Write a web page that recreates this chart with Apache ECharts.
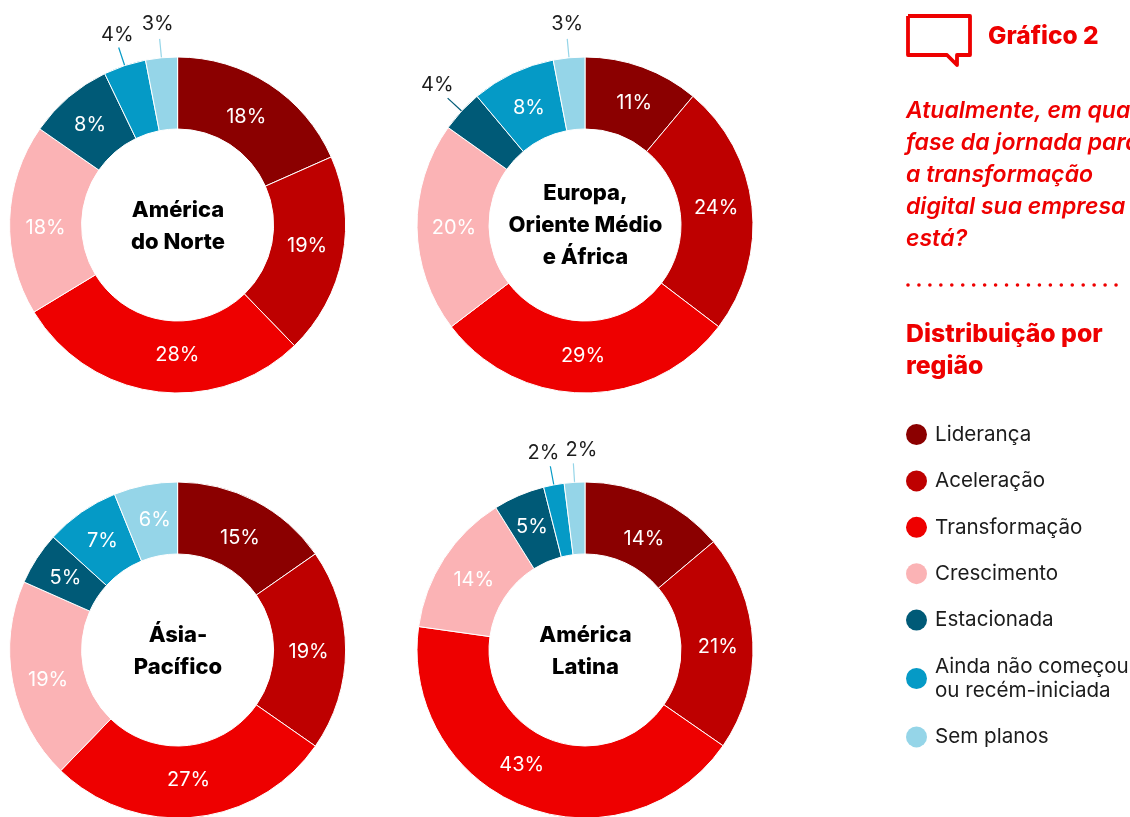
<!DOCTYPE html>
<html><head><meta charset="utf-8">
<style>html,body{margin:0;padding:0;background:#fff;overflow:hidden}#c{width:1130px;height:817px}</style>
<script src="https://cdn.jsdelivr.net/npm/echarts@6/dist/echarts.min.js"></script>
</head><body><div id="c"></div>
<script>
const categories = ['Liderança','Aceleração','Transformação','Crescimento','Estacionada','Ainda não começou ou recém-iniciada','Sem planos'];
const colors = ['#8b0000','#be0000','#ee0000','#fbb3b5','#005a77','#059ac6','#95d5e8'];
const regionNA = [18,19,28,18,8,4,3];
const regionEMEA = [11,24,29,20,4,8,3];
const regionAPAC = [15,19,27,19,5,7,6];
const regionLatAm = [14,21,43,14,5,2,2];
const outsideNA = [5,6], outsideEMEA = [4,6], outsideAPAC = [], outsideLatAm = [5,6];
const FONT = 'Inter';
const DARK = '#1c1c1c';
// hand placement of the reference's labels, relative to the slice's default spot
const nudges = [
  [[-5,5],[-3,-5],[17,-4],[3,7],[0,3],[16,-13],[15,-15]],
  [[3,5],[-3,-2],[-2,-4],[4,1],[7,-13],[2,5],[17,-15]],
  [[0,8],[-4,2],[-2,-4],[3,4],[1,2],[2,2],[3,2]],
  [[2,11],[-2,3],[-14,-11],[2,3],[0,1],[10,-13],[25,-13]]
];

function pie(values, outside, cx, cy) {
  return {
    type:'pie', center:[cx,cy], radius:[96,168], startAngle:90, clockwise:true,
    avoidLabelOverlap:false, silent:true, animation:false,
    itemStyle:{borderColor:'#fff',borderWidth:1},
    label:{position:'inside',color:'#fff',fontFamily:FONT,fontSize:20,formatter:p=>p.value+'%'},
    labelLayout:p=>({hideOverlap:false,moveOverlap:null,dx:nudges[p.seriesIndex][p.dataIndex][0],dy:nudges[p.seriesIndex][p.dataIndex][1]}),
    data: values.map((v,i)=>{
      const d = {name:categories[i], value:v, itemStyle:{color:colors[i]}};
      if (outside.includes(i)) {
        d.label = {position:'outside',color:DARK,distanceToLabelLine:1,alignTo:'none'};
        d.labelLine = {show:true,length:19,length2:0,smooth:false,lineStyle:{color:colors[i],width:1.2}};
      }
      return d;
    })
  };
}
const centerStyle = {fontFamily:FONT,fontWeight:800,fontSize:22,lineHeight:32,fill:'#000',align:'center',verticalAlign:'middle'};
const chart = echarts.init(document.getElementById('c'));
chart.setOption({
  animation:false,
  backgroundColor:'#fff',
  color:colors,
  legend:{
    orient:'vertical',left:906,top:422.5,padding:0,itemWidth:21,itemHeight:21,itemGap:22.4,icon:'circle',
    selectedMode:false,data:categories,itemStyle:{borderWidth:0},
    formatter:n=>n.replace(' ou ','\nou '),
    textStyle:{fontFamily:FONT,fontSize:20.6,color:DARK,lineHeight:24,padding:[0,0,0,3]}
  },
  series:[
    pie(regionNA,outsideNA,177.6,225),
    pie(regionEMEA,outsideEMEA,585,225),
    pie(regionAPAC,outsideAPAC,177.6,650),
    pie(regionLatAm,outsideLatAm,585,650)
  ],
  graphic:[
    {type:'text',x:178,y:226,silent:true,style:{text:'América\ndo Norte',...centerStyle}},
    {type:'text',x:585.5,y:225,silent:true,style:{text:'Europa,\nOriente Médio\ne África',...centerStyle}},
    {type:'text',x:178,y:651,silent:true,style:{text:'Ásia-\nPacífico',...centerStyle}},
    {type:'text',x:585.5,y:651,silent:true,style:{text:'América\nLatina',...centerStyle}},
    {type:'polyline',silent:true,shape:{points:[[908,16],[970,16],[970,55],[957,55],[957,65],[947,55],[908,55],[908,16]]},style:{stroke:'#ee0000',fill:'none',lineWidth:3.8,lineJoin:'round'}},
    {type:'text',x:988,y:23,silent:true,style:{text:'Gráfico 2',fontFamily:FONT,fontWeight:800,fontSize:24.5,fill:'#ee0000',lineHeight:28}},
    {type:'text',x:906,y:95,silent:true,style:{text:'Atualmente, em qual\nfase da jornada para\na transformação\ndigital sua empresa\nestá?',fontFamily:FONT,fontWeight:600,fontStyle:'italic',fontSize:23,fill:'#ee0000',lineHeight:32}},
    {type:'line',silent:true,shape:{x1:908,y1:285,x2:1117,y2:285},style:{stroke:'#ee0000',lineWidth:3.6,lineDash:[0,10.95],lineCap:'round'}},
    {type:'text',x:906,y:319,silent:true,style:{text:'Distribuição por\nregião',fontFamily:FONT,fontWeight:800,fontSize:24.8,fill:'#ee0000',lineHeight:32}}
  ]
});
</script></body></html>
